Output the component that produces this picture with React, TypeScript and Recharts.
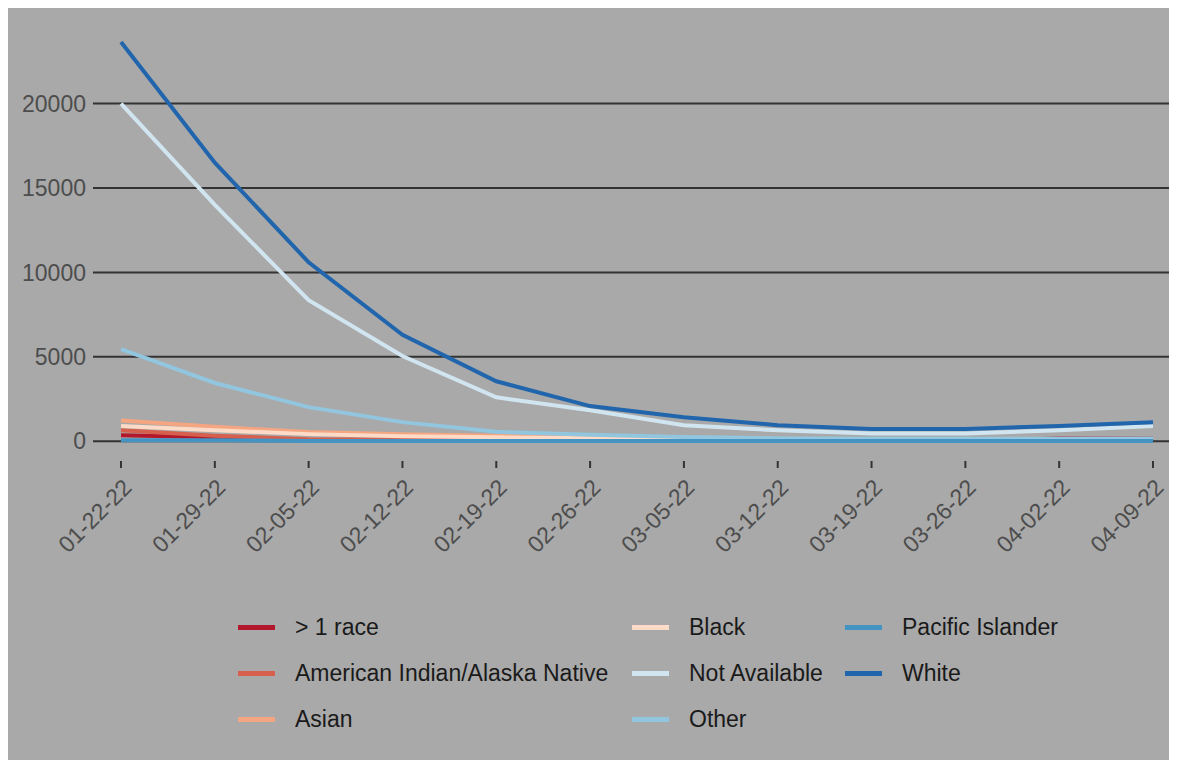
import { LineChart, Line, XAxis, YAxis, CartesianGrid } from "recharts"

const dates = [
  "01-22-22", "01-29-22", "02-05-22", "02-12-22", "02-19-22", "02-26-22",
  "03-05-22", "03-12-22", "03-19-22", "03-26-22", "04-02-22", "04-09-22",
]

const multiRace = [350, 240, 70, 50, 40, 30, 30, 30, 30, 30, 160, 160]
const americanIndian = [650, 330, 110, 80, 60, 50, 40, 30, 30, 30, 40, 50]
const asian = [1220, 850, 540, 410, 320, 240, 150, 100, 80, 70, 80, 100]
const black = [900, 650, 420, 300, 230, 170, 120, 80, 60, 60, 70, 90]
const notAvailable = [20000, 14000, 8350, 5050, 2600, 1840, 950, 650, 450, 450, 650, 900]
const other = [5450, 3450, 2020, 1130, 560, 380, 250, 180, 140, 140, 150, 160]
const pacificIslander = [60, 50, 20, 10, 10, 10, 10, 10, 10, 10, 10, 10]
const white = [23650, 16500, 10600, 6300, 3550, 2080, 1420, 950, 730, 730, 900, 1130]

const yTicks = [0, 5000, 10000, 15000, 20000]

const series = [
  { key: "multi", name: "> 1 race", values: multiRace, color: "#B2182B" },
  { key: "aian", name: "American Indian/Alaska Native", values: americanIndian, color: "#D6604D" },
  { key: "asian", name: "Asian", values: asian, color: "#F4A582" },
  { key: "black", name: "Black", values: black, color: "#FDDBC7" },
  { key: "na", name: "Not Available", values: notAvailable, color: "#D1E5F0" },
  { key: "other", name: "Other", values: other, color: "#92C5DE" },
  { key: "pi", name: "Pacific Islander", values: pacificIslander, color: "#4393C3" },
  { key: "white", name: "White", values: white, color: "#2166AC" },
]

const data = dates.map((date, i) => {
  const row: Record<string, string | number> = { date }
  series.forEach(s => { row[s.key] = s.values[i] })
  return row
})

// ggplot-style 5% expansion on the y range
const allValues = series.flatMap(s => s.values)
const yMin = Math.min(...allValues)
const yMax = Math.max(...allValues)
const pad = (yMax - yMin) * 0.05

const FONT = "'Liberation Sans', Arial, sans-serif"

function DateTick({ x, y, payload }: any) {
  return (
    <g transform={`translate(${x},${y})`}>
      <text
        x={0}
        y={0}
        transform="translate(12,21) rotate(-45)"
        textAnchor="end"
        fill="#4d4d4d"
        fontSize={23}
        fontFamily={FONT}
      >
        {payload.value}
      </text>
    </g>
  )
}

// legend columns are filled top to bottom, 3 rows
const legendCols = [230, 624, 837]
const legendRows = [619, 665, 711]

export default function App() {
  return (
    <div style={{ position: "relative", width: 1163, height: 752, background: "#a9a9a9", fontFamily: FONT }}>
      <LineChart width={1163} height={560} data={data} margin={{ top: 14, right: 0, bottom: 0, left: 0 }}>
        <CartesianGrid vertical={false} horizontalValues={yTicks} stroke="#333333" strokeWidth={2} />
        <XAxis
          dataKey="date"
          interval={0}
          height={107}
          padding={{ left: 28, right: 18 }}
          axisLine={false}
          tickLine={{ stroke: "#333333", strokeWidth: 2 }}
          tickSize={7}
          tickMargin={0}
          tick={<DateTick />}
        />
        <YAxis
          width={85}
          type="number"
          domain={[yMin - pad, yMax + pad]}
          ticks={yTicks}
          axisLine={false}
          tickLine={false}
          tickSize={0}
          tickMargin={7}
          tick={{ fill: "#4d4d4d", fontSize: 23, fontFamily: FONT }}
        />
        {series.map(s => (
          <Line
            key={s.key}
            type="linear"
            dataKey={s.key}
            name={s.name}
            stroke={s.color}
            strokeWidth={4}
            dot={false}
            activeDot={false}
            isAnimationActive={false}
          />
        ))}
      </LineChart>
      {series.map((s, i) => {
        const col = Math.floor(i / 3)
        const row = i % 3
        return (
          <div
            key={s.key}
            style={{
              position: "absolute",
              left: legendCols[col],
              top: legendRows[row] - 14,
              height: 28,
              display: "flex",
              alignItems: "center",
              whiteSpace: "nowrap",
            }}
          >
            <div style={{ width: 37, height: 5, background: s.color }} />
            <span style={{ marginLeft: 20, fontSize: 23, color: "#1a1a1a" }}>{s.name}</span>
          </div>
        )
      })}
    </div>
  )
}
